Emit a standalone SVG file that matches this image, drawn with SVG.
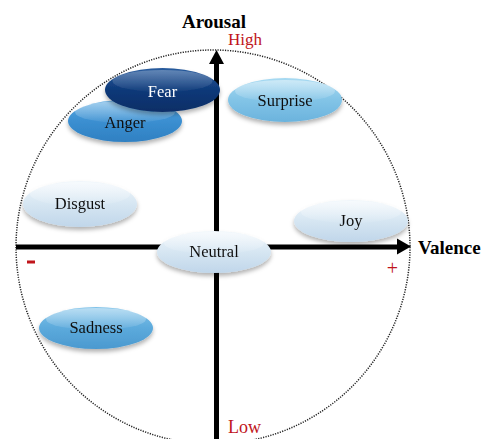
<svg xmlns="http://www.w3.org/2000/svg" width="486" height="439" viewBox="0 0 486 439">
<style>
.lbl{font-family:"Liberation Serif","Times New Roman",serif;font-size:16.5px;fill:#111;text-anchor:middle}
.ax{font-family:"Liberation Serif","Times New Roman",serif;font-weight:bold;fill:#000}
.red{font-family:"Liberation Serif","Times New Roman",serif;fill:#c0151b}
.axis{stroke:#000;stroke-width:5;fill:none}
.gloss{fill:url(#gloss)}
.node{filter:url(#sh)}
</style>
<defs>
<filter id="sh" x="-20%" y="-30%" width="140%" height="170%">
<feDropShadow dx="0" dy="3" stdDeviation="2" flood-color="#000" flood-opacity="0.3"/>
</filter>
<linearGradient id="gFear" x1="0" y1="0" x2="0" y2="1">
<stop offset="0" stop-color="#2a5c9e"/><stop offset="0.5" stop-color="#0d3979"/><stop offset="1" stop-color="#0a2e66"/>
</linearGradient>
<linearGradient id="gAnger" x1="0" y1="0" x2="0" y2="1">
<stop offset="0" stop-color="#5aaae2"/><stop offset="0.5" stop-color="#3b8fd1"/><stop offset="1" stop-color="#2f80c2"/>
</linearGradient>
<linearGradient id="gSurp" x1="0" y1="0" x2="0" y2="1">
<stop offset="0" stop-color="#a8daf2"/><stop offset="0.5" stop-color="#82c4e7"/><stop offset="1" stop-color="#6bb3dd"/>
</linearGradient>
<linearGradient id="gSad" x1="0" y1="0" x2="0" y2="1">
<stop offset="0" stop-color="#82c4ea"/><stop offset="0.5" stop-color="#5caadc"/><stop offset="1" stop-color="#4b99cf"/>
</linearGradient>
<linearGradient id="gPale" x1="0" y1="0" x2="0" y2="1">
<stop offset="0" stop-color="#f1f7fc"/><stop offset="0.5" stop-color="#d6e6f2"/><stop offset="1" stop-color="#c0d6ea"/>
</linearGradient>
<linearGradient id="gloss" x1="0" y1="0" x2="0" y2="1">
<stop offset="0" stop-color="#fff" stop-opacity="0.45"/><stop offset="1" stop-color="#fff" stop-opacity="0.05"/>
</linearGradient>
</defs>
<rect width="486" height="439" fill="#fff"/>
<circle cx="213" cy="247" r="197" fill="none" stroke="#222" stroke-width="1.5" stroke-dasharray="1.2 1.3"/>
<g id="axes">
<line class="axis" x1="216.5" y1="439" x2="216.5" y2="62"/>
<polygon points="216.5,50 209,64 224,64" fill="#000"/>
<line class="axis" x1="16" y1="247" x2="399" y2="247"/>
<polygon points="411,246.5 397,238.5 397,254.5" fill="#000"/>
</g>
<g id="labels">
<text class="ax" x="214" y="28" font-size="19" text-anchor="middle">Arousal</text>
<text class="red" x="228" y="45" font-size="17">High</text>
<text class="ax" x="418" y="254" font-size="19">Valence</text>
<text class="red" x="228" y="433" font-size="18">Low</text>
<rect x="27" y="260.5" width="8" height="3" fill="#c0151b"/>
<text class="red" x="392.5" y="275" font-size="20" text-anchor="middle">+</text>
</g>
<g id="anger" class="node">
<ellipse cx="125" cy="121" rx="57" ry="21" fill="url(#gAnger)"/>
<ellipse cx="125" cy="112" rx="50" ry="11" class="gloss"/>
<text class="lbl" x="125" y="128">Anger</text>
</g>
<g id="fear" class="node">
<ellipse cx="162.5" cy="90" rx="57.5" ry="22" fill="url(#gFear)"/>
<ellipse cx="162.5" cy="81" rx="50" ry="11" fill="url(#gloss)" opacity="0.6"/>
<text class="lbl" x="162.5" y="97" style="fill:#fff">Fear</text>
</g>
<g id="surprise" class="node">
<ellipse cx="285" cy="100" rx="57" ry="22" fill="url(#gSurp)"/>
<ellipse cx="285" cy="91" rx="50" ry="11" class="gloss"/>
<text class="lbl" x="285" y="106">Surprise</text>
</g>
<g id="disgust" class="node">
<ellipse cx="80" cy="204" rx="57" ry="23" fill="url(#gPale)"/>
<ellipse cx="80" cy="194" rx="50" ry="12" class="gloss"/>
<text class="lbl" x="80" y="209">Disgust</text>
</g>
<g id="joy" class="node">
<ellipse cx="351" cy="221" rx="57" ry="21" fill="url(#gPale)"/>
<ellipse cx="351" cy="212" rx="50" ry="11" class="gloss"/>
<text class="lbl" x="351" y="226">Joy</text>
</g>
<g id="neutral" class="node">
<ellipse cx="214" cy="252" rx="57" ry="21" fill="url(#gPale)"/>
<ellipse cx="214" cy="243" rx="50" ry="11" class="gloss"/>
<text class="lbl" x="214" y="257">Neutral</text>
</g>
<g id="sadness" class="node">
<ellipse cx="96" cy="328" rx="57" ry="21" fill="url(#gSad)"/>
<ellipse cx="96" cy="319" rx="50" ry="11" class="gloss"/>
<text class="lbl" x="96" y="333">Sadness</text>
</g>
</svg>
